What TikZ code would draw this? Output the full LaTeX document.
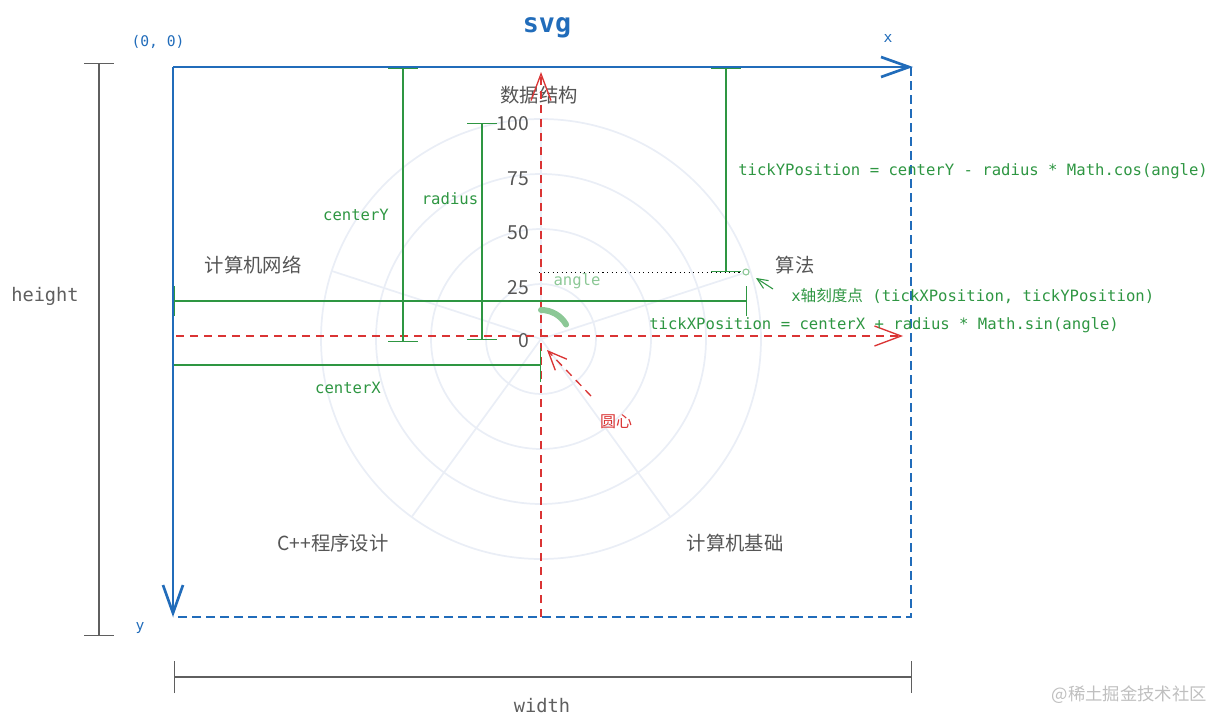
\documentclass[tikz,border=0pt]{standalone}
\usepackage{fontspec}
\setmainfont{Noto Sans}
\setmonofont{DejaVu Sans Mono}
\newfontfamily\cjk{Noto Sans CJK SC}
\usetikzlibrary{arrows.meta}
\definecolor{svgblue}{RGB}{33,108,186}
\definecolor{dimgreen}{RGB}{46,150,66}
\definecolor{anglegreen}{RGB}{140,200,150}
\definecolor{centerred}{RGB}{218,52,52}
\definecolor{ringgray}{RGB}{234,238,246}
\definecolor{labelgray}{RGB}{85,85,85}
\definecolor{rulegray}{RGB}{95,95,95}
\tikzset{
    inner sep=0pt, % labels sit right on their points
    }

\begin{document}
\begin{tikzpicture}[x=0.75pt, y=-0.75pt,
axisline/.style={draw=svgblue, line width=2.1pt, -{Straight Barb[length=21pt, width=15pt, line width=2pt]}},
boxline/.style={draw=svgblue, line width=2.1pt, dash pattern=on 6.5pt off 4pt},
redaxis/.style={draw=centerred, line width=1pt, dash pattern=on 6pt off 4.5pt, -{Straight Barb[length=20pt, width=15pt, line width=1pt]}},
redpointer/.style={draw=centerred, line width=1pt, dash pattern=on 6pt off 4.5pt, -{Straight Barb[length=14pt, width=12pt, line width=1pt]}},
greenpointer/.style={draw=dimgreen, line width=0.8pt, -{Straight Barb[length=8pt, width=7pt, line width=0.8pt]}},
dimline/.style={draw=dimgreen, line width=1pt, {Bar[width=22pt, line width=1pt]}-{Bar[width=22pt, line width=1pt]}},
ruler/.style={draw=rulegray, line width=1pt, {Bar[width=22pt, line width=1pt]}-{Bar[width=22pt, line width=1pt]}},
grid/.style={draw=ringgray, line width=1.3pt},
anglearc/.style={draw=anglegreen, line width=4.5pt, line cap=round},
catlabel/.style={text=labelgray, font=\cjk\fontsize{14.5}{16}\selectfont},
ticklabel/.style={text=labelgray, font=\cjk\fontsize{14.5}{16}\selectfont, anchor=east},
codelabel/.style={text=dimgreen, font=\ttfamily\fontsize{11.7}{14}\selectfont},
bluelabel/.style={text=svgblue, font=\ttfamily\fontsize{11}{13}\selectfont},
rulelabel/.style={text=rulegray, font=\ttfamily\fontsize{14}{16}\selectfont},
]
\useasboundingbox (0,0) rectangle (1217,728);

% svg box and its axes
\coordinate (O) at (173,67);
\coordinate (X) at (913,67);
\coordinate (Y) at (173,617);
\coordinate (TR) at (911,67);
\coordinate (BR) at (911,617);
\draw[boxline] (TR) -- (BR) -- (Y);
\draw[axisline] (O) -- (X);
\draw[axisline] (O) -- (Y);

\node[bluelabel, font=\ttfamily\bfseries\fontsize{20}{22}\selectfont] (svg) at (547,28) {svg};
\node[bluelabel] (origin) at (158,42) {(0, 0)};
\node[bluelabel] (xname) at (888,38) {x};
\node[bluelabel] (yname) at (140,628) {y};

% polar chart
\coordinate (C) at (541,339);
\foreach \r in {55,110,165,220}
    \draw[grid] (C) circle[radius=\r];
\foreach \a in {-90,-18,54,126,198}
    \draw[grid] (C) -- ++(\a:220);

\node[catlabel] (dsjg) at (539,95) {数据结构};
\node[catlabel] (sf) at (795,265) {算法};
\node[catlabel] (jcjc) at (735,543) {计算机基础};
\node[catlabel] (cpp) at (333,543) {C++程序设计};
\node[catlabel] (wl) at (253,265) {计算机网络};

\node[ticklabel] (t100) at (529,124) {100};
\node[ticklabel] (t75) at (529,179) {75};
\node[ticklabel] (t50) at (529,233) {50};
\node[ticklabel] (t25) at (529,288) {25};
\node[ticklabel] (t0) at (529,341) {0};

% center axes
\coordinate (Cbot) at (541,617);
\coordinate (Ctop) at (541,72);
\coordinate (Cleft) at (176,336);
\coordinate (Cright) at (903,336);
\draw[redaxis] (Cbot) -- (Ctop);
\draw[redaxis] (Cleft) -- (Cright);

\node[text=centerred, font=\cjk\fontsize{12}{14}\selectfont] (yx) at (616,422) {圆心};
\coordinate (yxtail) at (591,396);
\coordinate (yxtip) at (547,350);
\draw[redpointer] (yxtail) -- (yxtip);

% tick point and angle
\coordinate (tickpt) at (746,272);
\coordinate (tickrow) at (539,272);
\draw[line width=0.6pt, dash pattern=on 0.8pt off 2.6pt] (tickrow) -- (tickpt);
\draw[draw=anglegreen, line width=0.8pt, fill=white] (tickpt) circle[radius=3];
\draw[anglearc] ([shift={(-90:29)}]C) arc[start angle=-90, end angle=-30, radius=29];
\node[codelabel, text=anglegreen] (anglename) at (577,281) {angle};

% dimensions
\coordinate (cyT) at (403,68);
\coordinate (cyB) at (403,342);
\coordinate (rT) at (482,123);
\coordinate (rB) at (482,340);
\coordinate (tyT) at (726,68);
\coordinate (tyB) at (726,272);
\coordinate (txL) at (174,301);
\coordinate (txR) at (747,301);
\coordinate (cxL) at (173,365);
\coordinate (cxR) at (541,365);
\draw[dimline] (cyT) -- (cyB);
\draw[dimline] (rT) -- (rB);
\draw[dimline] (tyT) -- (tyB);
\draw[dimline] (txL) -- (txR);
\draw[dimline, {Bar[width=0pt]}-{Bar[width=25pt, line width=1pt]}] (cxL) -- (cxR);

\node[codelabel] (cyname) at (356,215) {centerY};
\node[codelabel] (rname) at (450,199) {radius};
\node[codelabel] (cxname) at (348,388) {centerX};
\node[codelabel, anchor=west] (tyformula) at (738,171) {tickYPosition = centerY - radius * Math.cos(angle)};
\node[codelabel, anchor=west] (txformula) at (649,325) {tickXPosition = centerX + radius * Math.sin(angle)};
\node[codelabel, anchor=west] (tickname) at (791,296) {x{\cjk 轴刻度点} (tickXPosition, tickYPosition)};
\coordinate (tntail) at (773,289);
\coordinate (tntip) at (756,278);
\draw[greenpointer] (tntail) -- (tntip);

% outer size
\coordinate (hT) at (99,63);
\coordinate (hB) at (99,636);
\coordinate (wL) at (174,677);
\coordinate (wR) at (912,677);
\draw[ruler] (hT) -- (hB);
\draw[ruler, {Bar[width=24pt, line width=1pt]}-{Bar[width=24pt, line width=1pt]}] (wL) -- (wR);
\node[rulelabel] (hname) at (45,296) {height};
\node[rulelabel] (wname) at (542,706) {width};

\node[text=black!25, font=\cjk\fontsize{13}{15}\selectfont, anchor=east] (mark) at (1207,695) {@稀土掘金技术社区};
\end{tikzpicture}
\end{document}
